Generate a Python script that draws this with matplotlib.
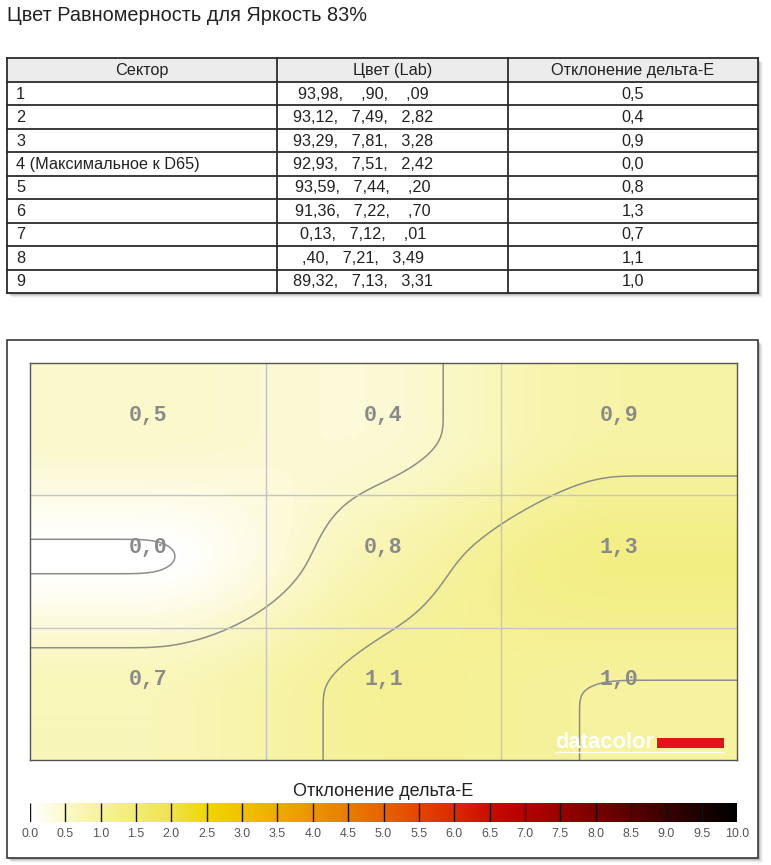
import numpy as np
import matplotlib
matplotlib.use("Agg")
import matplotlib.pyplot as plt
from matplotlib.colors import LinearSegmentedColormap, Normalize
from matplotlib.patches import Rectangle
import matplotlib.colorbar as mcolorbar

# ---------------- data ----------------
title = "Цвет Равномерность для Яркость 83%"
col_headers = ["Сектор", "Цвет (Lab)", "Отклонение дельта-E"]
sectors = ["1", "2", "3", "4 (Максимальное к D65)", "5", "6", "7", "8", "9"]
lab_L = ["93,98", "93,12", "93,29", "92,93", "93,59", "91,36", "0,13", ",40", "89,32"]
lab_a = [",90", "7,49", "7,81", "7,51", "7,44", "7,22", "7,12", "7,21", "7,13"]
lab_b = [",09", "2,82", "3,28", "2,42", ",20", ",70", ",01", "3,49", "3,31"]
delta_e = [0.5, 0.4, 0.9, 0.0, 0.8, 1.3, 0.7, 1.1, 1.0]
contour_levels = [0.03, 0.51, 1.012]
cbar_title = "Отклонение дельта-E"
cbar_ticks = [0.0, 0.5, 1.0, 1.5, 2.0, 2.5, 3.0, 3.5, 4.0, 4.5, 5.0,
              5.5, 6.0, 6.5, 7.0, 7.5, 8.0, 8.5, 9.0, 9.5, 10.0]
cmap_values = [0.0, 0.5, 1.0, 1.5, 2.0, 2.5, 3.0, 3.5, 4.0, 4.5, 5.0,
               5.5, 6.0, 6.5, 7.0, 7.5, 8.0, 8.5, 9.0, 9.5, 10.0]
cmap_colors = ["#ffffff", "#fbf8c8", "#f6f29c", "#f1ec70", "#efe24c", "#efd600",
               "#efc200", "#edab00", "#eb9400", "#e97c00", "#e76200", "#e34600",
               "#db2a00", "#cb0c00", "#b60000", "#9a0000", "#7a0000", "#5a0000",
               "#3a0000", "#1c0000", "#000000"]

# ---------------- figure ----------------
W, H = 771, 865
fig = plt.figure(figsize=(W / 100, H / 100), dpi=100)
fig.patch.set_facecolor("white")


def px_axes(x0, y0, x1, y1, **kw):
    return fig.add_axes([x0 / W, 1 - y1 / H, (x1 - x0) / W, (y1 - y0) / H], **kw)


canvas = px_axes(0, 0, W, H)
canvas.set_xlim(0, W)
canvas.set_ylim(H, 0)
canvas.axis("off")

sans = "Liberation Sans"

# title
canvas.text(7, 21, title, fontsize=14.3, family=sans, color="#222222", va="baseline", ha="left")


def shadow(x0, y0, x1, y1):
    for k, a in zip(range(1, 6), [0.22, 0.16, 0.11, 0.07, 0.04]):
        canvas.add_patch(Rectangle((x0 + k, y0 + k), x1 - x0, y1 - y0,
                                   facecolor="#404040", edgecolor="none", alpha=a, zorder=0))


# ---------------- table ----------------
col_edges = [7, 277, 508, 758]
t_top, hdr_bot, t_bot = 58, 82, 293
n_rows = len(sectors)
row_h = (t_bot - hdr_bot) / n_rows
shadow(col_edges[0], t_top, col_edges[-1], t_bot)
canvas.add_patch(Rectangle((col_edges[0], t_top), col_edges[-1] - col_edges[0], t_bot - t_top,
                           facecolor="white", edgecolor="none", zorder=1))
canvas.add_patch(Rectangle((col_edges[0], t_top), col_edges[-1] - col_edges[0], hdr_bot - t_top,
                           facecolor="#ececec", edgecolor="none", zorder=1))
lc = "#2b2b2b"
for yy in [t_top, hdr_bot] + [hdr_bot + (i + 1) * row_h for i in range(n_rows)]:
    canvas.plot([col_edges[0], col_edges[-1]], [yy, yy], color=lc, lw=1.3, zorder=2,
                solid_capstyle="projecting")
for xx in col_edges:
    canvas.plot([xx, xx], [t_top, t_bot], color=lc, lw=1.3, zorder=2, solid_capstyle="projecting")

tfs = 11.7
for j, h in enumerate(col_headers):
    canvas.text((col_edges[j] + col_edges[j + 1]) / 2, (t_top + hdr_bot) / 2 + 0.5, h,
                fontsize=tfs, family=sans, color="#222222", ha="center", va="center", zorder=3)


def gap(s):
    return "    " if s.startswith(",") else "   "


for i in range(n_rows):
    yc = hdr_bot + (i + 0.5) * row_h + 0.5
    canvas.text(16, yc, sectors[i], fontsize=tfs, family=sans, color="#222222",
                ha="left", va="center", zorder=3)
    lab = lab_L[i] + "," + gap(lab_a[i]) + lab_a[i] + "," + gap(lab_b[i]) + lab_b[i]
    canvas.text(363, yc, lab, fontsize=tfs, family=sans, color="#222222",
                ha="center", va="center", zorder=3)
    canvas.text((col_edges[2] + col_edges[3]) / 2, yc, f"{delta_e[i]:.1f}".replace(".", ","),
                fontsize=tfs, family=sans, color="#222222", ha="center", va="center", zorder=3)

# ---------------- panel ----------------
shadow(7, 340, 758, 858)
canvas.add_patch(Rectangle((7, 340), 751, 518, facecolor="white", edgecolor="#3a3a3a",
                           lw=1.2, zorder=1))

# ---------------- colormap ----------------
cmap = LinearSegmentedColormap.from_list(
    "de", [(v / 10.0, c) for v, c in zip(cmap_values, cmap_colors)])
norm = Normalize(vmin=0, vmax=10)

# ---------------- heatmap ----------------
hx0, hy0, hx1, hy1 = 30, 363, 737, 760
ax = px_axes(hx0, hy0, hx1, hy1)

grid = np.array(delta_e, dtype=float).reshape(3, 3)


def hermite(vals, t):
    """Cubic Hermite along axis 0: central-difference tangents inside,
    flat tangents at the outer samples, constant beyond them."""
    vals = np.asarray(vals, dtype=float)
    n = vals.shape[0]
    tan = np.gradient(vals, axis=0)
    tan[0] = 0.0
    tan[-1] = 0.0
    t = np.clip(t, 0, n - 1)
    i = np.minimum(np.floor(t).astype(int), n - 2)
    u = (t - i)[:, None]
    h00 = 2 * u**3 - 3 * u**2 + 1
    h10 = u**3 - 2 * u**2 + u
    h01 = -2 * u**3 + 3 * u**2
    h11 = u**3 - u**2
    return h00 * vals[i] + h10 * tan[i] + h01 * vals[i + 1] + h11 * tan[i + 1]


def blur(a, sx, sy):
    def k(s):
        r = int(3 * s)
        x = np.arange(-r, r + 1)
        g = np.exp(-0.5 * (x / s) ** 2)
        return g / g.sum(), r
    kx, rx = k(sx)
    ky, ry = k(sy)
    p = np.pad(a, ((0, 0), (rx, rx)), mode="edge")
    a = np.array([np.convolve(row, kx, mode="valid") for row in p])
    p = np.pad(a, ((ry, ry), (0, 0)), mode="edge")
    a = np.array([np.convolve(col, ky, mode="valid") for col in p.T]).T
    return a


xs = np.linspace(-0.5, 2.5, 707)
ys = np.linspace(-0.5, 2.5, 397)
rows_interp = hermite(grid.T, xs).T
field = blur(hermite(rows_interp, ys), 14, 8)

ax.imshow(field, extent=(-0.5, 2.5, 2.5, -0.5), cmap=cmap, norm=norm,
          aspect="auto", interpolation="bilinear")
ax.contour(xs, ys, field, levels=contour_levels, colors="#8e8e88", linewidths=1.1)
for g in (0.5, 1.5):
    ax.axvline(g, color="#c4c4c4", lw=1.0)
    ax.axhline(g, color="#c4c4c4", lw=1.0)
ax.set_xlim(-0.5, 2.5)
ax.set_ylim(2.5, -0.5)
ax.set_xticks([])
ax.set_yticks([])
for sp in ax.spines.values():
    sp.set_color("#555555")
    sp.set_linewidth(1.0)

for k, v in enumerate(delta_e):
    r, c = divmod(k, 3)
    ax.annotate(f"{v:.1f}".replace(".", ","), (c, r), xytext=(0, 10), textcoords="offset points",
                ha="center", va="center", fontsize=15.5, family="Liberation Mono",
                fontweight="bold", color="#8a8a8a")

# datacolor logo
def hfrac(x, y):
    return (x - hx0) / (hx1 - hx0), 1 - (y - hy0) / (hy1 - hy0)

lx, ly = hfrac(555, 748)
ax.text(lx, ly, "datacolor", transform=ax.transAxes, fontsize=15.8, family=sans,
        fontweight="bold", color="white", ha="left", va="baseline")
rx0, ry0 = hfrac(657, 748)
rx1, ry1 = hfrac(724, 738)
ax.add_patch(Rectangle((rx0, ry0), rx1 - rx0, ry1 - ry0, transform=ax.transAxes,
                       facecolor="#e3121d", edgecolor="none"))
wx0, wy = hfrac(555, 751.5)
wx1, _ = hfrac(724, 751.5)
ax.plot([wx0, wx1], [wy, wy], transform=ax.transAxes, color="white", lw=1.0)

# ---------------- colorbar ----------------
canvas.text((hx0 + hx1) / 2, 791, cbar_title, fontsize=13, family=sans, color="#222222",
            ha="center", va="center")
cax = px_axes(30, 803, 737, 822)
cb = mcolorbar.ColorbarBase(cax, cmap=cmap, norm=norm, orientation="horizontal", ticks=cbar_ticks)
cb.outline.set_visible(False)
cax.set_xticklabels([f"{t:.1f}" for t in cbar_ticks])
cax.tick_params(axis="x", length=0, pad=4, labelsize=8.9, labelcolor="#555555")
for lab in cax.get_xticklabels():
    lab.set_family(sans)
cax.vlines(cbar_ticks[:-1], 0, 1, colors="#111111", lw=1.0)

fig.savefig("out.png", dpi=100)
